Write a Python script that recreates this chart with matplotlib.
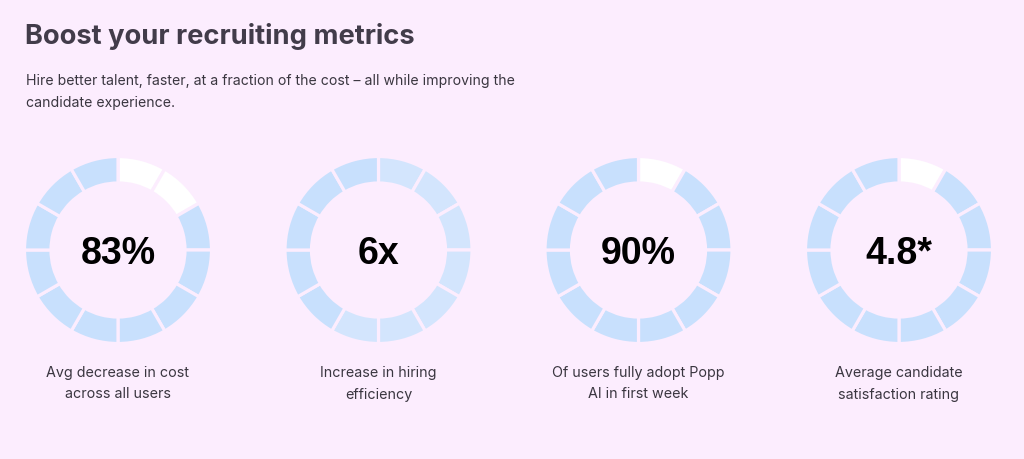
import matplotlib
matplotlib.use("Agg")
import matplotlib.pyplot as plt

# ---------------- data ----------------
metric_values = ["83%", "6x", "90%", "4.8*"]
metric_labels = [
    ["Avg decrease in cost", "across all users"],
    ["Increase in hiring", "efficiency"],
    ["Of users fully adopt Popp", "AI in first week"],
    ["Average candidate", "satisfaction rating"],
]
n_segments = 12
filled_segments = [10, 5, 11, 11]
partial_segments = [0, 7, 0, 0]

title = "Boost your recruiting metrics"
subtitle_lines = ["Hire better talent, faster, at a fraction of the cost \u2013 all while improving the",
                  "candidate experience."]

# ---------------- style ----------------
W, H, DPI = 1024, 459, 100
bg = "#FCEDFE"
c_empty = "#FFFFFF"
c_partial = "#D3E5FD"
c_filled = "#C8E0FD"
title_color = "#423C4A"
text_color = "#3A3640"

fig = plt.figure(figsize=(W / DPI, H / DPI), dpi=DPI, facecolor=bg)


def px(x, y):
    return x / W, 1 - y / H


renderer = fig.canvas.get_renderer()


def fit_size(s, target_w, size, **kw):
    t = fig.text(0, 0, s, fontsize=size, **kw)
    w = t.get_window_extent(renderer).width
    t.remove()
    return size * target_w / w


tsize = fit_size(title, 390, 20, family="Inter", weight="bold")
fig.text(*px(25, 44), title, fontsize=tsize, family="Inter", weight="bold",
         color=title_color, va="baseline", ha="left")

ssize = fit_size(subtitle_lines[0], 482, 11, family="Inter")
for j, line in enumerate(subtitle_lines):
    fig.text(*px(26, 85 + 22 * j), line, fontsize=ssize, family="Inter",
             color=text_color, va="baseline", ha="left")

centers_x = [118, 378.5, 638.5, 899]
center_y = 250
r_out = 93.5
ring_w = 26.5

for i in range(len(metric_values)):
    cx = centers_x[i]
    ax = fig.add_axes([(cx - r_out) / W, 1 - (center_y + r_out) / H,
                       2 * r_out / W, 2 * r_out / H])
    ax.set_facecolor("none")
    n_empty = n_segments - filled_segments[i] - partial_segments[i]
    colors = ([c_empty] * n_empty + [c_partial] * partial_segments[i]
              + [c_filled] * filled_segments[i])
    ax.pie([1] * n_segments, colors=colors, startangle=90, counterclock=False,
           radius=1.0,
           wedgeprops=dict(width=ring_w / r_out, edgecolor=bg, linewidth=2.3))
    ax.set_xlim(-1, 1)
    ax.set_ylim(-1, 1)
    ax.set_aspect("equal")
    ax.axis("off")
    ax.text(0, 0, metric_values[i], ha="center", va="center_baseline",
            fontsize=27, weight="bold", family="Liberation Sans", color="black")
    for j, line in enumerate(metric_labels[i]):
        fig.text(*px(cx, 377 + 21.5 * j), line, ha="center", va="baseline",
                 fontsize=10.3, family="Inter", color=text_color)

fig.savefig("out.png", dpi=DPI, facecolor=bg)
